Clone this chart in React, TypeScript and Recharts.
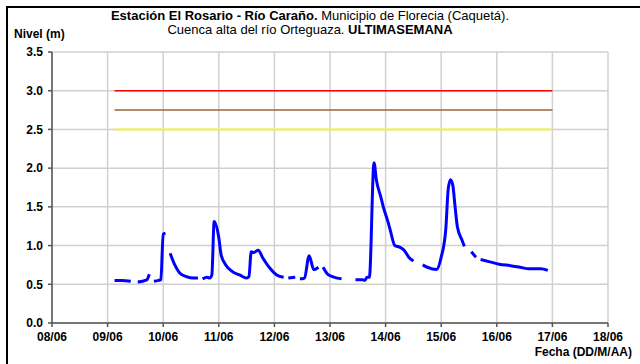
import { LineChart, Line, XAxis, YAxis, CartesianGrid } from "recharts";

// hours since 08/06 00:00 and river level (m); null = missing reading
const horas = [
  27, 30, 34, 35, 37, 39, 41, 42, 43, 44, 46, 47, 48, 49, 50,
  51, 53, 55, 58, 61, 63, 64,
  65, 67, 68, 69, 70, 72, 73, 75, 78, 81, 84, 85, 86, 87, 89, 91, 94, 97, 100, 101,
  102, 105, 106,
  107, 108, 109, 111, 113, 114, 115, 116,
  117, 119, 121, 125, 126,
  131, 134, 135, 136, 137, 139, 140, 142, 143, 145, 146, 148, 150, 152, 154, 156, 157,
  160, 162, 166, 168, 170, 171, 172, 173, 174, 175, 177, 178, 179,
  181, 183, 184,
  185, 189, 193, 198, 202, 206, 211, 214,
];
const nivel: (number | null)[] = [
  0.55, 0.55, 0.54, null, 0.53, 0.54, 0.56, 0.63, null, 0.54, 0.55, 0.56, 1.15, 1.16, null,
  0.9, 0.75, 0.65, 0.6, 0.58, 0.58, null,
  0.57, 0.59, 0.58, 0.62, 1.31, 1.1, 0.88, 0.75, 0.66, 0.62, 0.58, 0.6, 0.92, 0.91, 0.94, 0.84, 0.71, 0.62, 0.59, null,
  0.58, 0.59, null,
  0.57, 0.57, 0.58, 0.87, 0.69, 0.7, 0.72, null,
  0.72, 0.63, 0.6, 0.57, null,
  0.56, 0.56, 0.55, 0.59, 0.59, 2.07, 1.85, 1.62, 1.5, 1.31, 1.2, 1.0, 0.98, 0.94, 0.85, 0.8, null,
  0.75, 0.72, 0.69, 0.85, 1.22, 1.72, 1.85, 1.78, 1.5, 1.24, 1.07, 0.99, null,
  0.92, 0.85, null,
  0.82, 0.79, 0.76, 0.74, 0.72, 0.7, 0.7, 0.68,
];

// alert thresholds
const umbrales = [3.0, 2.75, 2.5];
const coloresUmbral = ["#ff0000", "#996633", "#f2f244"];
const umbralInicio = 27;
const umbralFin = 216;

const fechas = ["08/06", "09/06", "10/06", "11/06", "12/06", "13/06", "14/06", "15/06", "16/06", "17/06", "18/06"];
const yTicks = [0, 0.5, 1, 1.5, 2, 2.5, 3, 3.5];

const data = horas.map((h, i) => ({ h, nivel: nivel[i] }));
const xTicks = fechas.map((_, i) => i * 24);

const font = "'Liberation Sans', Arial, sans-serif";
const tickStyle = { fontSize: 12, fontWeight: 700, fill: "#000", fontFamily: font };

export default function App() {
  return (
    <div
      style={{
        position: "absolute",
        left: 0,
        top: 0,
        width: 640,
        height: 364,
        overflow: "hidden",
        background: "#fff",
        fontFamily: font,
      }}
    >
      <div
        style={{
          position: "absolute",
          left: 6,
          top: 6,
          width: 700,
          height: 400,
          borderLeft: "2px solid #000",
          borderTop: "2px solid #000",
        }}
      />
      <LineChart
        width={640}
        height={364}
        data={data}
        margin={{ top: 52, right: 32, bottom: 11, left: 8 }}
        style={{ position: "absolute", left: 0, top: 0 }}
      >
        <CartesianGrid stroke="#d0d0d0" strokeWidth={1.5} />
        <XAxis
          dataKey="h"
          type="number"
          domain={[0, 240]}
          ticks={xTicks}
          tickFormatter={(v) => fechas[v / 24]}
          height={30}
          tick={tickStyle}
          tickSize={4}
          tickMargin={5}
          stroke="#555"
          strokeWidth={1.5}
          interval={0}
        />
        <XAxis xAxisId="top" orientation="top" type="number" domain={[0, 240]} height={0} tick={false} tickLine={false} stroke="#888" />
        <YAxis
          domain={[0, 3.5]}
          ticks={yTicks}
          tickFormatter={(v) => v.toFixed(1)}
          width={44}
          tick={tickStyle}
          tickSize={4}
          tickMargin={5}
          stroke="#555"
          strokeWidth={1.5}
          interval={0}
        />
        <YAxis yAxisId="right" orientation="right" domain={[0, 3.5]} width={0} tick={false} tickLine={false} stroke="#888" />
        {umbrales.map((u, i) => (
          <Line
            key={u}
            data={[
              { h: umbralInicio, nivel: u },
              { h: umbralFin, nivel: u },
            ]}
            dataKey="nivel"
            stroke={coloresUmbral[i]}
            strokeWidth={i === 2 ? 2 : 1.5}
            dot={false}
            isAnimationActive={false}
          />
        ))}
        <Line
          dataKey="nivel"
          type="monotone"
          stroke="#0000ff"
          strokeWidth={3}
          dot={false}
          isAnimationActive={false}
        />
      </LineChart>
      <div
        style={{
          position: "absolute",
          left: 0,
          top: 9,
          width: 620,
          textAlign: "center",
          fontSize: 13,
          lineHeight: "14px",
          color: "#000",
        }}
      >
        <div>
          <b>Estación El Rosario - Río Caraño.</b> Municipio de Florecia (Caquetá).
        </div>
        <div>
          Cuenca alta del río Orteguaza. <b>ULTIMASEMANA</b>
        </div>
      </div>
      <div style={{ position: "absolute", left: 14, top: 27, fontSize: 12, fontWeight: 700, lineHeight: "14px" }}>
        Nivel (m)
      </div>
      <div style={{ position: "absolute", right: 8, top: 345, fontSize: 12, fontWeight: 700, lineHeight: "14px" }}>
        Fecha (DD/M/AA)
      </div>
    </div>
  );
}
